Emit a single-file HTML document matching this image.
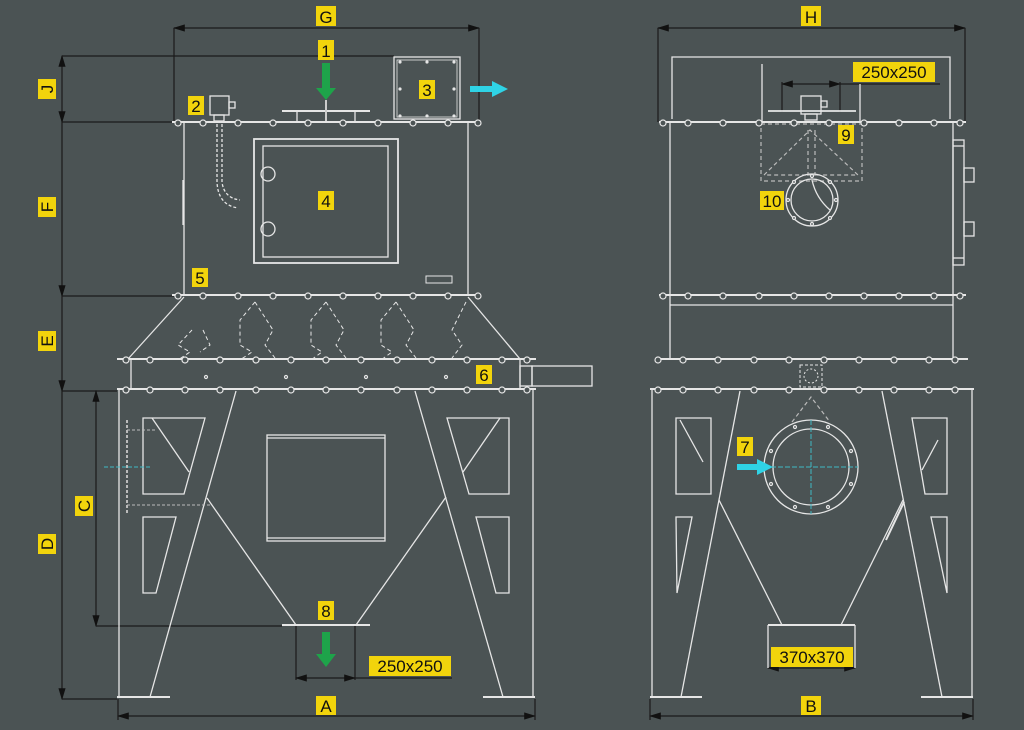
<!DOCTYPE html>
<html><head><meta charset="utf-8"><style>
html,body{margin:0;padding:0;background:#4b5354;}
svg{display:block}
text{font-family:"Liberation Sans",sans-serif;fill:#111;}
</style></head><body>
<svg width="1024" height="730" viewBox="0 0 1024 730" xmlns="http://www.w3.org/2000/svg">
<defs>
<marker id="ar" markerWidth="10" markerHeight="6" refX="9" refY="3" orient="auto-start-reverse"><path d="M0,0 L10,3 L0,6 z" fill="#111"/></marker>
</defs>
<rect width="1024" height="730" fill="#4b5354"/>

<g stroke="#1a1a1a" stroke-width="1.2" fill="none">
<line x1="174" y1="28" x2="479" y2="28" marker-start="url(#ar)" marker-end="url(#ar)"/>
<line x1="174" y1="28" x2="174" y2="122"/><line x1="479" y1="28" x2="479" y2="122"/>
<line x1="62" y1="56" x2="62" y2="122" marker-start="url(#ar)" marker-end="url(#ar)"/>
<line x1="62" y1="122" x2="62" y2="296" marker-end="url(#ar)"/>
<line x1="62" y1="296" x2="62" y2="391" marker-end="url(#ar)"/>
<line x1="62" y1="391" x2="62" y2="699" marker-end="url(#ar)"/>
<line x1="62" y1="56" x2="394" y2="56"/>
<line x1="62" y1="122" x2="174" y2="122"/>
<line x1="62" y1="296" x2="174" y2="296"/>
<line x1="62" y1="391" x2="117" y2="391"/>
<line x1="62" y1="699" x2="117" y2="699"/>
<line x1="96" y1="391" x2="96" y2="626" marker-start="url(#ar)" marker-end="url(#ar)"/>
<line x1="96" y1="626" x2="282" y2="626"/>
<line x1="118" y1="716" x2="535" y2="716" marker-start="url(#ar)" marker-end="url(#ar)"/>
<line x1="118" y1="699" x2="118" y2="720"/><line x1="535" y1="699" x2="535" y2="720"/>
<line x1="296" y1="626" x2="296" y2="680"/><line x1="355" y1="626" x2="355" y2="680"/>
<line x1="296" y1="678" x2="355" y2="678" marker-start="url(#ar)" marker-end="url(#ar)"/>
<line x1="355" y1="678" x2="452" y2="678"/>
<line x1="658" y1="28" x2="965" y2="28" marker-start="url(#ar)" marker-end="url(#ar)"/>
<line x1="658" y1="28" x2="658" y2="122"/><line x1="965" y1="28" x2="965" y2="122"/>
<line x1="782" y1="84" x2="840" y2="84" marker-start="url(#ar)" marker-end="url(#ar)"/>
<line x1="840" y1="84" x2="940" y2="84"/>
<line x1="782" y1="82" x2="782" y2="112"/><line x1="840" y1="82" x2="840" y2="112"/>
<line x1="650" y1="716" x2="973" y2="716" marker-start="url(#ar)" marker-end="url(#ar)"/>
<line x1="650" y1="699" x2="650" y2="720"/><line x1="973" y1="699" x2="973" y2="720"/>
<line x1="768" y1="668" x2="855" y2="668" marker-start="url(#ar)" marker-end="url(#ar)"/>
</g>

<g stroke="#e6e6e6" stroke-width="1.3" fill="none">
<line x1="172" y1="122" x2="481" y2="122" stroke-width="2"/>
<line x1="184" y1="122" x2="184" y2="295"/><line x1="468" y1="122" x2="468" y2="295"/>
<line x1="183" y1="180" x2="183" y2="225"/>
<line x1="172" y1="295" x2="481" y2="295" stroke-width="2"/>
<rect x="254" y="139" width="144" height="124" stroke-width="1.8"/>
<rect x="263" y="146" width="125" height="111"/>
<circle cx="268" cy="174" r="7"/><circle cx="268" cy="229" r="7"/>
<rect x="426" y="276" width="26" height="7" stroke-width="1"/>
<rect x="394" y="57" width="66" height="62"/>
<rect x="397" y="60" width="60" height="57" stroke-width="0.8"/>
<line x1="282" y1="111" x2="370" y2="111" stroke-width="2"/>
<line x1="297" y1="111" x2="297" y2="122"/><line x1="355" y1="111" x2="355" y2="122"/>
<rect x="210" y="96" width="19" height="19"/><rect x="229" y="102" width="6" height="6"/>
<rect x="214" y="115" width="10" height="6"/>
<path d="M217,124 L217,182 Q218,205 238,208" stroke-dasharray="3,2"/>
<path d="M222,124 L222,182 Q224,198 240,200" stroke-dasharray="3,2"/>
<line x1="184" y1="297" x2="128" y2="359"/><line x1="468" y1="297" x2="520" y2="359"/>
<g stroke-dasharray="4,3" stroke-width="1">
<path d="M192,330 L178,345 L190,352 L178,360"/><path d="M203,330 L210,345 L200,352"/>
<path d="M255,302 L240,320 L240,345 L252,352 L240,360 M255,302 L273,330 L265,345 L275,358"/>
<path d="M326,302 L311,320 L311,345 L322,352 L311,360 M326,302 L344,330 L336,345 L346,358"/>
<path d="M396,302 L381,320 L381,345 L392,352 L381,360 M396,302 L414,330 L406,345 L416,358"/>
<path d="M466,302 L452,330 L462,345 L452,358"/>
</g>
<line x1="117" y1="359" x2="536" y2="359" stroke-width="2"/>
<line x1="117" y1="389" x2="536" y2="389" stroke-width="2"/>
<line x1="131" y1="359" x2="131" y2="389"/><line x1="520" y1="359" x2="520" y2="389"/>
<rect x="520" y="366" width="12" height="20"/><rect x="532" y="366" width="60" height="20"/>
<line x1="119" y1="389" x2="119" y2="697"/><line x1="533" y1="389" x2="533" y2="697"/>
<line x1="236" y1="391" x2="150" y2="697"/><line x1="415" y1="391" x2="503" y2="697"/>
<line x1="117" y1="697" x2="170" y2="697" stroke-width="2"/><line x1="483" y1="697" x2="535" y2="697" stroke-width="2"/>
<line x1="207" y1="498" x2="296" y2="625"/><line x1="446" y1="497" x2="356" y2="625"/>
<line x1="282" y1="625" x2="370" y2="625" stroke-width="2"/>
<rect x="267" y="435" width="118" height="106"/>
<line x1="267" y1="438" x2="385" y2="438"/><line x1="267" y1="538" x2="385" y2="538"/>
<path d="M143,418 L205,418 L184,494 L143,494 Z"/><line x1="152" y1="418" x2="189" y2="472"/>
<path d="M143,517 L176,517 L156,593 L143,593 Z"/>
<path d="M447,418 L509,418 L509,494 L469,494 Z"/><line x1="500" y1="418" x2="463" y2="472"/>
<path d="M476,517 L509,517 L509,593 L496,593 Z"/>
<g stroke="#bbb" stroke-dasharray="3,2" stroke-width="1">
<line x1="127" y1="420" x2="127" y2="515" stroke-width="2"/>
<line x1="127" y1="430" x2="157" y2="430"/><line x1="127" y1="505" x2="212" y2="505"/>
</g>
<line x1="104" y1="467" x2="150" y2="467" stroke="#3fb8c4" stroke-dasharray="4,2" stroke-width="1"/>
</g>
<g fill="#4b5354" stroke="#e6e6e6" stroke-width="1.2">
<g id="brow1"><circle cx="178" cy="123" r="3"/><circle cx="203" cy="123" r="3"/><circle cx="238" cy="123" r="3"/><circle cx="273" cy="123" r="3"/><circle cx="308" cy="123" r="3"/><circle cx="343" cy="123" r="3"/><circle cx="378" cy="123" r="3"/><circle cx="413" cy="123" r="3"/><circle cx="448" cy="123" r="3"/><circle cx="478" cy="123" r="3"/></g>
<use href="#brow1" y="173"/>
<g id="brow2"><circle cx="126" cy="360" r="3"/><circle cx="150" cy="360" r="3"/><circle cx="185" cy="360" r="3"/><circle cx="220" cy="360" r="3"/><circle cx="256" cy="360" r="3"/><circle cx="291" cy="360" r="3"/><circle cx="326" cy="360" r="3"/><circle cx="361" cy="360" r="3"/><circle cx="397" cy="360" r="3"/><circle cx="432" cy="360" r="3"/><circle cx="467" cy="360" r="3"/><circle cx="502" cy="360" r="3"/><circle cx="527" cy="360" r="3"/></g>
<use href="#brow2" y="30"/>
<circle cx="206" cy="377" r="1.5"/><circle cx="286" cy="377" r="1.5"/><circle cx="366" cy="377" r="1.5"/><circle cx="446" cy="377" r="1.5"/>
</g>
<g fill="#e6e6e6"><circle cx="400" cy="62" r="1.6"/><circle cx="427" cy="62" r="1.6"/><circle cx="454" cy="62" r="1.6"/><circle cx="400" cy="89" r="1.6"/><circle cx="454" cy="89" r="1.6"/><circle cx="400" cy="116" r="1.6"/><circle cx="427" cy="116" r="1.6"/><circle cx="454" cy="116" r="1.6"/></g>

<g stroke="#e6e6e6" stroke-width="1.3" fill="none">
<path d="M672,119 L672,57 L950,57 L950,119"/>
<line x1="762" y1="64" x2="762" y2="122"/><line x1="860" y1="84" x2="860" y2="122"/>
<line x1="768" y1="111" x2="856" y2="111" stroke-width="1.8"/>
<rect x="801" y="96" width="20" height="18"/><rect x="821" y="101" width="6" height="6"/><rect x="805" y="114" width="12" height="6"/>
<line x1="659" y1="122" x2="966" y2="122" stroke-width="2"/>
<line x1="670" y1="122" x2="670" y2="295"/><line x1="953" y1="122" x2="953" y2="295"/>
<rect x="953" y="140" width="11" height="125"/>
<line x1="953" y1="146" x2="964" y2="146"/><line x1="953" y1="258" x2="964" y2="258"/>
<rect x="964" y="168" width="10" height="14"/><rect x="964" y="222" width="10" height="14"/>
<line x1="659" y1="295" x2="966" y2="295" stroke-width="2"/>
<line x1="670" y1="305" x2="953" y2="305"/>
<line x1="670" y1="295" x2="670" y2="359"/><line x1="953" y1="295" x2="953" y2="359"/>
<g stroke="#bbb" stroke-dasharray="4,3" stroke-width="1.2">
<rect x="761" y="124" width="101" height="57"/>
<path d="M764,175 L810,130 L858,175 L764,175"/>
<line x1="808" y1="130" x2="808" y2="180"/><line x1="815" y1="130" x2="815" y2="180"/>
<path d="M792,422 L811,397 L830,422"/>
</g>
<circle cx="812" cy="200" r="26"/><circle cx="812" cy="200" r="21"/>
<path d="M812,180 Q816,198 830,210" />
<line x1="656" y1="359" x2="968" y2="359" stroke-width="2"/>
<line x1="650" y1="389" x2="974" y2="389" stroke-width="2"/>
<rect x="800" y="365" width="22" height="22" stroke-dasharray="3,2" stroke-width="1"/>
<circle cx="811" cy="376" r="7" stroke-dasharray="2,2" stroke-width="1"/>
<line x1="652" y1="389" x2="652" y2="697"/><line x1="972" y1="389" x2="972" y2="697"/>
<line x1="740" y1="391" x2="681" y2="697"/><line x1="882" y1="391" x2="942" y2="697"/>
<line x1="650" y1="697" x2="702" y2="697" stroke-width="2"/><line x1="921" y1="697" x2="973" y2="697" stroke-width="2"/>
<line x1="719" y1="500" x2="782" y2="625"/><line x1="903" y1="500" x2="841" y2="625"/>
<line x1="768" y1="625" x2="855" y2="625" stroke-width="2"/>
<line x1="768" y1="625" x2="768" y2="668"/><line x1="855" y1="625" x2="855" y2="668"/>
<circle cx="811" cy="467" r="47"/><circle cx="811" cy="467" r="38"/>
<path d="M676,418 L711,418 L711,494 L676,494 Z"/><line x1="680" y1="420" x2="703" y2="462"/>
<path d="M676,517 L692,517 L677,593 Z"/>
<path d="M912,418 L947,418 L947,494 L925,494 Z"/><line x1="938" y1="440" x2="922" y2="470"/>
<path d="M931,517 L947,517 L947,593 Z"/>
<line x1="904" y1="502" x2="886" y2="540" stroke-width="2"/>
</g>
<g stroke="#3fb8c4" stroke-dasharray="5,2" stroke-width="1"><line x1="771" y1="467" x2="858" y2="467"/><line x1="811" y1="420" x2="811" y2="514"/></g>
<g fill="#4b5354" stroke="#e6e6e6" stroke-width="1.2">
<g id="rrow"><circle cx="663" cy="123" r="3"/><circle cx="688" cy="123" r="3"/><circle cx="723" cy="123" r="3"/><circle cx="759" cy="123" r="3"/><circle cx="794" cy="123" r="3"/><circle cx="829" cy="123" r="3"/><circle cx="864" cy="123" r="3"/><circle cx="899" cy="123" r="3"/><circle cx="934" cy="123" r="3"/><circle cx="960" cy="123" r="3"/></g>
<use href="#rrow" y="173"/><use href="#rrow" x="-5" y="237"/><use href="#rrow" x="-5" y="267"/>
<circle cx="812" cy="176" r="1.5"/><circle cx="830" cy="182" r="1.5"/><circle cx="836" cy="200" r="1.5"/><circle cx="830" cy="218" r="1.5"/><circle cx="812" cy="224" r="1.5"/><circle cx="794" cy="218" r="1.5"/><circle cx="788" cy="200" r="1.5"/><circle cx="794" cy="182" r="1.5"/>
<circle cx="795" cy="427" r="1.5"/><circle cx="828" cy="427" r="1.5"/><circle cx="851" cy="451" r="1.5"/><circle cx="851" cy="484" r="1.5"/><circle cx="828" cy="507" r="1.5"/><circle cx="795" cy="507" r="1.5"/><circle cx="771" cy="484" r="1.5"/><circle cx="771" cy="451" r="1.5"/>
</g>

<path d="M322,63 L330,63 L330,88 L336,88 L326,100 L316,88 L322,88 Z" fill="#1ea34a"/>
<line x1="326" y1="100" x2="326" y2="121" stroke="#ccc" stroke-width="2"/>
<path d="M322,632 L330,632 L330,654 L336,654 L326,667 L316,654 L322,654 Z" fill="#1ea34a"/>
<path d="M470,86 L492,86 L492,81 L508,89 L492,97 L492,92 L470,92 Z" fill="#2fd3e6"/>
<path d="M737,464 L757,464 L757,459 L773,467 L757,475 L757,470 L737,470 Z" fill="#2fd3e6"/>

<g font-size="17">
<rect x="316" y="6" width="20" height="20" fill="#f2d40c"/><text x="326" y="23" text-anchor="middle">G</text>
<rect x="801" y="6" width="20" height="20" fill="#f2d40c"/><text x="811" y="23" text-anchor="middle">H</text>
<rect x="318" y="40" width="16" height="20" fill="#f2d40c"/><text x="326" y="57" text-anchor="middle">1</text>
<rect x="188" y="96" width="16" height="19" fill="#f2d40c"/><text x="196" y="112" text-anchor="middle">2</text>
<rect x="419" y="80" width="16" height="19" fill="#f2d40c"/><text x="427" y="96" text-anchor="middle">3</text>
<rect x="318" y="191" width="16" height="19" fill="#f2d40c"/><text x="326" y="207" text-anchor="middle">4</text>
<rect x="192" y="268" width="16" height="19" fill="#f2d40c"/><text x="200" y="284" text-anchor="middle">5</text>
<rect x="476" y="365" width="16" height="19" fill="#f2d40c"/><text x="484" y="381" text-anchor="middle">6</text>
<rect x="737" y="437" width="16" height="19" fill="#f2d40c"/><text x="745" y="453" text-anchor="middle">7</text>
<rect x="318" y="601" width="16" height="19" fill="#f2d40c"/><text x="326" y="617" text-anchor="middle">8</text>
<rect x="838" y="125" width="16" height="19" fill="#f2d40c"/><text x="846" y="141" text-anchor="middle">9</text>
<rect x="760" y="191" width="24" height="19" fill="#f2d40c"/><text x="772" y="207" text-anchor="middle">10</text>
<rect x="316" y="696" width="20" height="19" fill="#f2d40c"/><text x="326" y="712" text-anchor="middle">A</text>
<rect x="801" y="696" width="20" height="19" fill="#f2d40c"/><text x="811" y="712" text-anchor="middle">B</text>
<rect x="369" y="656" width="82" height="20" fill="#f2d40c"/><text x="410" y="672" text-anchor="middle">250x250</text>
<rect x="853" y="62" width="82" height="20" fill="#f2d40c"/><text x="894" y="78" text-anchor="middle">250x250</text>
<rect x="771" y="647" width="82" height="20" fill="#f2d40c"/><text x="812" y="663" text-anchor="middle">370x370</text>
<g transform="translate(47,89) rotate(-90)"><rect x="-10" y="-9" width="20" height="18" fill="#f2d40c"/><text x="0" y="6" text-anchor="middle">J</text></g>
<g transform="translate(47,207) rotate(-90)"><rect x="-10" y="-9" width="20" height="18" fill="#f2d40c"/><text x="0" y="6" text-anchor="middle">F</text></g>
<g transform="translate(47,341) rotate(-90)"><rect x="-10" y="-9" width="20" height="18" fill="#f2d40c"/><text x="0" y="6" text-anchor="middle">E</text></g>
<g transform="translate(47,544) rotate(-90)"><rect x="-10" y="-9" width="20" height="18" fill="#f2d40c"/><text x="0" y="6" text-anchor="middle">D</text></g>
<g transform="translate(84,506) rotate(-90)"><rect x="-10" y="-9" width="20" height="18" fill="#f2d40c"/><text x="0" y="6" text-anchor="middle">C</text></g>
</g>
</svg>
</body></html>
